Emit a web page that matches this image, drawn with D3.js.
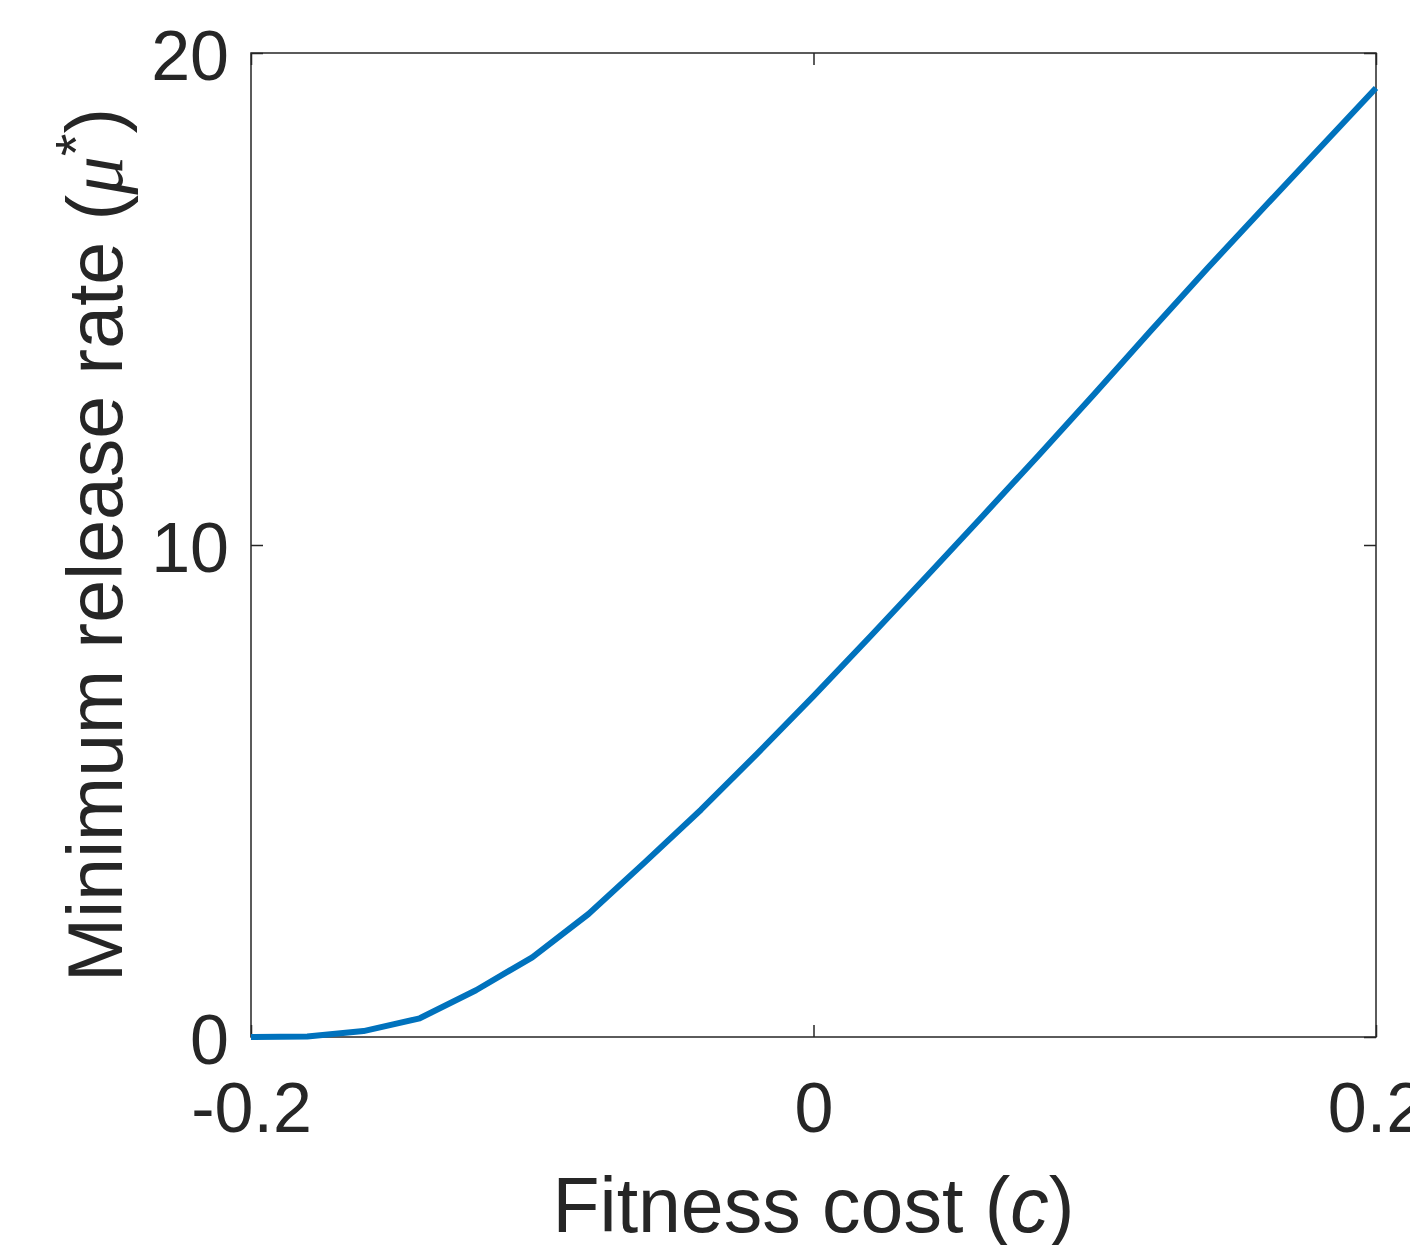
<!DOCTYPE html>
<html lang="en">
<head>
  <meta charset="UTF-8">
  <title>Minimum release rate</title>
  <script src="https://cdn.jsdelivr.net/npm/d3@7"></script>
  <style>
    body { margin: 0; background: #fff; }
    text { font-family: "Liberation Sans", Arial, Helvetica, sans-serif; fill: #262626; }
  </style>
</head>
<body>
  <div id="chart"></div>

  <script>
    // fitness cost c (x) and minimum release rate mu* (y)
    const cost = [-0.20, -0.18, -0.16, -0.14, -0.12, -0.10, -0.08, -0.06, -0.04, -0.02,
                  0.00, 0.02, 0.04, 0.06, 0.08, 0.10, 0.12, 0.14, 0.16, 0.18, 0.20];
    const minRate = [0, 0.01, 0.12, 0.38, 0.95, 1.62, 2.50, 3.55, 4.62, 5.76,
                     6.93, 8.13, 9.35, 10.58, 11.82, 13.08, 14.36, 15.62, 16.85, 18.07, 19.29];
    const xTicks = [-0.2, 0, 0.2];
    const xTickLabels = ['-0.2', '0', '0.2'];
    const yTicks = [0, 10, 20];

    const width = 1410,
      height = 1245;
    const margin = {top: 53, right: 34, bottom: 208, left: 251};
    const w = width - margin.left - margin.right,
      h = height - margin.top - margin.bottom;

    const svg = d3.select('#chart')
      .append('svg')
        .attr('width', width)
        .attr('height', height);

    const g = svg.append('g')
      .attr('transform', `translate(${margin.left},${margin.top})`);

    const x = d3.scaleLinear().domain([-0.2, 0.2]).range([0, w]);
    const y = d3.scaleLinear().domain([0, 20]).range([h, 0]);

    const axisColor = '#262626';

    // MATLAB-style box with inward ticks
    function styleAxis(sel) {
      sel.select('.domain').remove();
      sel.selectAll('.tick line').attr('stroke', axisColor).attr('stroke-width', 1.5);
      sel.selectAll('.tick text')
        .style('font-size', '70px')
        .style('font-family', '"Liberation Sans", Arial, Helvetica, sans-serif')
        .attr('fill', axisColor);
    }

    g.append('g')
      .attr('transform', `translate(0,${h})`)
      .call(d3.axisBottom(x).tickValues(xTicks).tickSize(-12).tickPadding(45)
        .tickFormat((d, i) => xTickLabels[i]))
      .call(styleAxis);

    g.append('g')
      .call(d3.axisTop(x).tickValues(xTicks).tickSize(-12).tickFormat(''))
      .call(styleAxis);

    g.append('g')
      .call(d3.axisLeft(y).tickValues(yTicks).tickSize(-12).tickPadding(22))
      .call(styleAxis)
      .selectAll('.tick text').attr('dy', '0.38em');

    g.append('g')
      .attr('transform', `translate(${w},0)`)
      .call(d3.axisRight(y).tickValues(yTicks).tickSize(-12).tickFormat(''))
      .call(styleAxis);

    g.append('rect')
      .attr('width', w)
      .attr('height', h)
      .attr('fill', 'none')
      .attr('stroke', axisColor)
      .attr('stroke-width', 1.5);

    // the curve
    const line = d3.line()
      .x((d, i) => x(cost[i]))
      .y(d => y(d));

    g.append('path')
      .datum(minRate)
      .attr('d', line)
      .attr('fill', 'none')
      .attr('stroke', '#0072BD')
      .attr('stroke-width', 6)
      .attr('stroke-linejoin', 'round');

    // axis labels
    const xl = g.append('text')
      .attr('x', w / 2)
      .attr('y', h + 195)
      .attr('text-anchor', 'middle')
      .style('font-size', '77px');
    xl.append('tspan').text('Fitness cost (');
    xl.append('tspan').style('font-style', 'italic').text('c');
    xl.append('tspan').text(')');

    const yl = g.append('text')
      .attr('transform', `translate(${122 - margin.left},${h / 2}) rotate(-90)`)
      .attr('text-anchor', 'middle')
      .style('font-size', '77px');
    yl.append('tspan').text('Minimum release rate (');
    yl.append('tspan')
      .style('font-family', '"Liberation Serif", "DejaVu Serif", serif')
      .style('font-style', 'italic')
      .text('μ');
    yl.append('tspan')
      .attr('dy', '-0.45em')
      .style('font-size', '58px')
      .text('*');
    yl.append('tspan')
      .attr('dy', '0.33em')
      .text(')');
  </script>
</body>
</html>
